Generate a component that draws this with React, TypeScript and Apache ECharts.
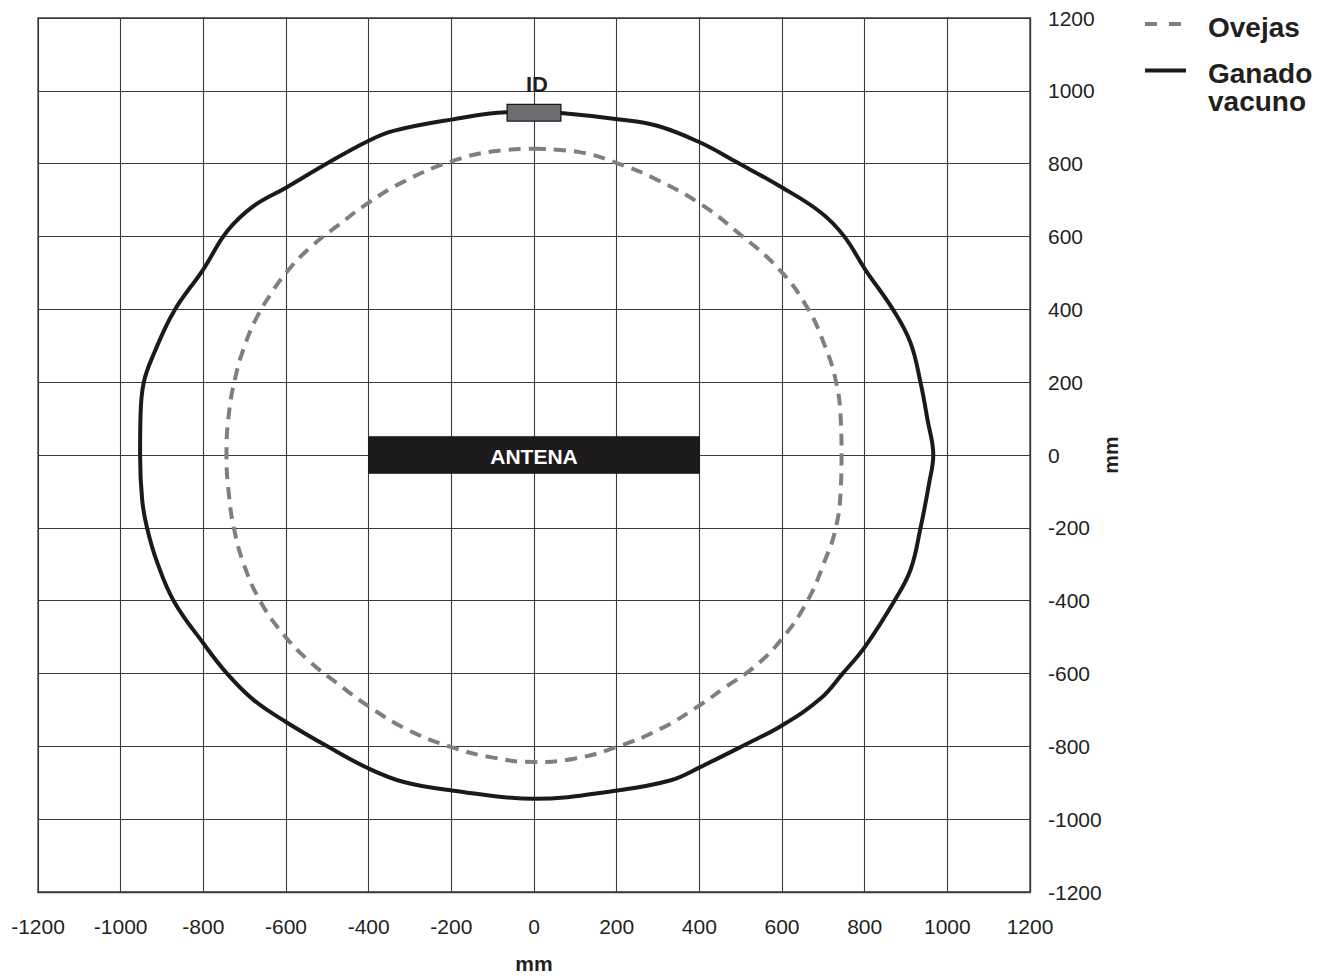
import React, { useEffect, useRef } from "react";
import * as echarts from "echarts";

// Axis ticks (mm)
const axisMin = -1200;
const axisMax = 1200;
const axisStep = 200;

// "Ganado vacuno" (cattle) read range contour, clockwise from the top [x, y] in mm
const cattle: number[][] = [
  [0, 942], [65, 939], [202, 922], [298, 904], [402, 858], [492, 803], [601, 734],
  [694, 666], [750, 601], [801, 510], [871, 395], [911, 308], [935, 200], [952, 97],
  [966, 0], [956, -77], [935, -201], [911, -315], [871, -402], [801, -526], [746, -601],
  [694, -668], [601, -742], [508, -797], [402, -857], [331, -893], [202, -921], [0, -944],
  [-200, -921], [-315, -898], [-400, -861], [-500, -800], [-600, -733], [-678, -673],
  [-742, -601], [-800, -517], [-871, -402], [-911, -297], [-936, -201], [-948, -123],
  [-953, 0], [-952, 106], [-944, 200], [-919, 280], [-871, 395], [-800, 510], [-742, 615],
  [-678, 684], [-600, 734], [-500, 801], [-400, 863], [-340, 890], [-200, 921], [-66, 941],
  [0, 942],
];

// "Ovejas" (sheep) read range contour, clockwise from the top [x, y] in mm
const sheep: number[][] = [
  [0, 841], [113, 831], [202, 801], [290, 760], [402, 690], [492, 612], [593, 510],
  [661, 405], [702, 305], [730, 205], [742, 100], [744, 0], [742, -95], [730, -201],
  [702, -295], [661, -402], [601, -503], [535, -580], [460, -640], [400, -688], [306, -752],
  [202, -801], [97, -834], [0, -843], [-98, -831], [-200, -802], [-310, -752],
  [-399, -691], [-476, -627], [-545, -565], [-608, -490], [-662, -402], [-702, -300],
  [-726, -201], [-738, -110], [-744, 0], [-738, 115], [-722, 216], [-700, 300],
  [-672, 375], [-638, 440], [-600, 500], [-545, 566], [-476, 629], [-400, 693],
  [-320, 748], [-203, 805], [-98, 834], [0, 841],
];

// Boxes: [xMin, xMax, yMin, yMax] in mm
const antennaBox: number[][] = [[-400, 400, -50, 50]];
const idBox: number[][] = [[-65, 65, 917, 963]];

const antennaLabel = "ANTENA";
const idLabel = "ID";
const sheepName = "Ovejas";
const cattleName = ["Ganado", "vacuno"];
const axisUnit = "mm";

const FONT = "'Liberation Sans', Arial, Helvetica, sans-serif";
const TEXT = "#231f20";

export default function App() {
  const ref = useRef<HTMLDivElement | null>(null);

  useEffect(() => {
    if (!ref.current) return;
    const chart = echarts.init(ref.current, null, { renderer: "svg" });

    const boxSeries = (
      name: string,
      data: number[][],
      fill: string,
      stroke: string,
      label: string,
      labelColor: string,
      labelInside: boolean,
      fontSize: number
    ) => ({
      type: "custom",
      name,
      z: 5,
      encode: { x: [0, 1], y: [2, 3] },
      data,
      renderItem: (params: any, api: any) => {
        const p0 = api.coord([api.value(0), api.value(3)]);
        const p1 = api.coord([api.value(1), api.value(2)]);
        const cx = (p0[0] + p1[0]) / 2;
        const cy = labelInside ? (p0[1] + p1[1]) / 2 + 1 : p0[1] - 20;
        return {
          type: "group",
          children: [
            {
              type: "rect",
              shape: { x: p0[0], y: p0[1], width: p1[0] - p0[0], height: p1[1] - p0[1] },
              style: { fill, stroke, lineWidth: 1.3 },
            },
            {
              type: "text",
              x: cx + (labelInside ? 0 : 3),
              y: cy,
              style: {
                text: label,
                fill: labelColor,
                font: `bold ${fontSize}px ${FONT}`,
                align: "center",
                verticalAlign: "middle",
              },
            },
          ],
        };
      },
    });

    const legendX = 1145;
    chart.setOption({
      animation: false,
      backgroundColor: "#ffffff",
      textStyle: { fontFamily: FONT },
      grid: {
        left: 38,
        right: 290,
        top: 18,
        bottom: 84,
        outerBoundsMode: "none",
        containLabel: false,
        show: true,
        borderColor: "#3a3a3a",
        borderWidth: 1.3,
      },
      xAxis: {
        type: "value",
        min: axisMin,
        max: axisMax,
        interval: axisStep,
        name: axisUnit,
        nameLocation: "middle",
        nameGap: 61,
        nameMoveOverlap: false,
        nameTextStyle: { fontSize: 21, fontWeight: "bold", color: TEXT, fontFamily: FONT },
        axisLine: { show: true, onZero: false, lineStyle: { color: "#3a3a3a", width: 1.3 } },
        axisTick: { show: false },
        axisLabel: {
          fontSize: 21,
          color: TEXT,
          margin: 24,
          fontFamily: FONT,
          formatter: (v: number) => String(v),
        },
        splitLine: { show: true, lineStyle: { color: "#3a3a3a", width: 1.1 } },
      },
      yAxis: {
        type: "value",
        position: "right",
        min: axisMin,
        max: axisMax,
        interval: axisStep,
        name: axisUnit,
        nameLocation: "middle",
        nameRotate: 90,
        nameGap: 70,
        nameMoveOverlap: false,
        nameTextStyle: { fontSize: 21, fontWeight: "bold", color: TEXT, fontFamily: FONT },
        axisLine: { show: true, onZero: false, lineStyle: { color: "#3a3a3a", width: 1.3 } },
        axisTick: { show: false },
        axisLabel: {
          fontSize: 21,
          color: TEXT,
          margin: 18,
          fontFamily: FONT,
          padding: [6, 0, 0, 0],
          formatter: (v: number) => String(v),
        },
        splitLine: { show: true, lineStyle: { color: "#3a3a3a", width: 1.1 } },
      },
      series: [
        {
          type: "line",
          name: sheepName,
          data: sheep,
          smooth: 0.45,
          symbol: "none",
          z: 3,
          lineStyle: { color: "#7f7f7f", width: 4, type: [12, 8] },
        },
        {
          type: "line",
          name: cattleName.join(" "),
          data: cattle,
          smooth: 0.4,
          symbol: "none",
          z: 4,
          lineStyle: { color: "#1a1a1a", width: 4 },
        },
        boxSeries("antena", antennaBox, "#1c1a1b", "#1c1a1b", antennaLabel, "#ffffff", true, 21),
        boxSeries("id", idBox, "#6d6e72", "#1a1a1a", idLabel, TEXT, false, 22),
      ],
      graphic: [
        {
          type: "line",
          shape: { x1: legendX, y1: 24, x2: legendX + 41, y2: 24 },
          style: { stroke: "#7f7f7f", lineWidth: 4, lineDash: [12, 12] },
        },
        {
          type: "text",
          x: 1208,
          y: 27,
          style: { text: sheepName, font: `bold 28px ${FONT}`, fill: TEXT, align: "left", verticalAlign: "middle" },
        },
        {
          type: "line",
          shape: { x1: legendX, y1: 70.5, x2: legendX + 41, y2: 70.5 },
          style: { stroke: "#1a1a1a", lineWidth: 4 },
        },
        {
          type: "text",
          x: 1208,
          y: 73,
          style: { text: cattleName[0], font: `bold 28px ${FONT}`, fill: TEXT, align: "left", verticalAlign: "middle" },
        },
        {
          type: "text",
          x: 1208,
          y: 101,
          style: { text: cattleName[1], font: `bold 28px ${FONT}`, fill: TEXT, align: "left", verticalAlign: "middle" },
        },
      ],
    });

    return () => chart.dispose();
  }, []);

  return (
    <div
      ref={ref}
      style={{ position: "absolute", left: 0, top: 0, width: 1320, height: 976, background: "#fff" }}
    />
  );
}
